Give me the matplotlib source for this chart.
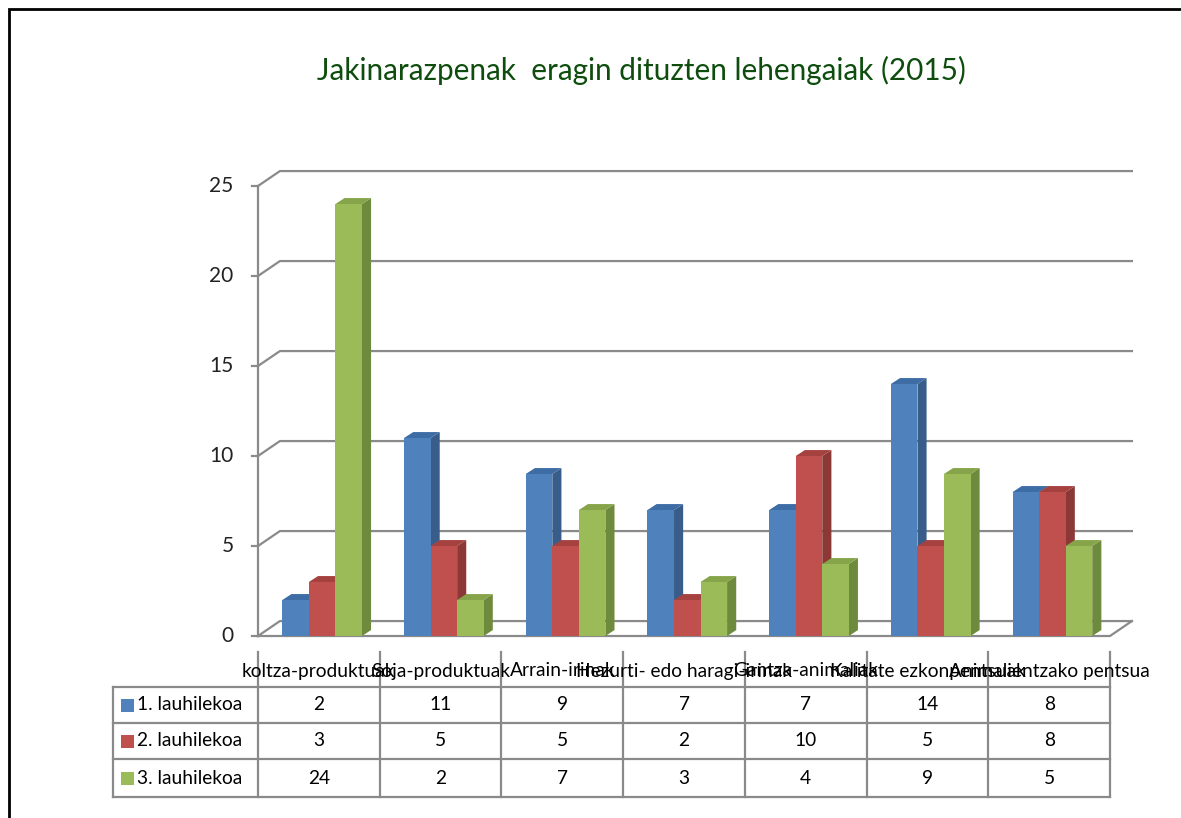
import matplotlib.pyplot as plt
from matplotlib.patches import Polygon, Rectangle

plt.rcParams['font.family'] = ['Lato', 'DejaVu Sans']

title = "Jakinarazpenak  eragin dituzten lehengaiak (2015)"
categories = ["koltza-produktuak", "Soja-produktuak", "Arrain-irinak",
              "Hezurti- edo haragi-irinak", "Gantza-animaliak",
              "Kalitate ezkonpentsuak", "Animalientzako pentsua"]
series = ["1. lauhilekoa", "2. lauhilekoa", "3. lauhilekoa"]
q1 = [2, 11, 9, 7, 7, 14, 8]
q2 = [3, 5, 5, 2, 10, 5, 8]
q3 = [24, 2, 7, 3, 4, 9, 5]
yticks = [0, 5, 10, 15, 20, 25]

front = ["#4F81BD", "#C0504D", "#9BBB59"]
side = ["#385D8A", "#8C3836", "#6E8A3C"]
top = ["#3E6DA6", "#A5423F", "#86A44A"]
grid_c = "#8A8A8A"

W, H = 1181, 818
fig = plt.figure(figsize=(W / 100, H / 100), dpi=100)

# outer frame
fig.patches.append(Rectangle((9 / W, -0.1), 1.2, 1 - 9 / H + 0.1, transform=fig.transFigure,
                             fill=False, ec="black", lw=2))

fig.text(641 / W, 1 - 70 / H, title, ha="center", va="center", fontsize=21.4,
         color="#0E4D0E")

# front plane of the plot
x0, x1, y0, y1 = 258, 1110, 636, 186
ax = fig.add_axes([x0 / W, 1 - y0 / H, (x1 - x0) / W, (y0 - y1) / H])
n = len(categories)
ax.set_xlim(0, n)
ax.set_ylim(0, 25)
ax.axis("off")


def xd(p):
    return (p - x0) * n / (x1 - x0)


def yd(p):
    return (y0 - p) * 25 / (y0 - y1)


# depth offsets in data units
ddx, ddy = 0.18, 0.83     # back wall
bdx, bdy = 0.075, 0.33    # bar depth

for v in yticks:
    ax.plot([0, ddx, n + ddx], [v, v + ddy, v + ddy], color=grid_c, lw=1.6, zorder=0,
            clip_on=False)
    ax.plot([-0.05, 0], [v, v], color=grid_c, lw=1.6, clip_on=False)
    ax.text(-0.2, v, str(v), ha="right", va="center", fontsize=15, color="#222222")
ax.plot([0, 0], [0, 25], color=grid_c, lw=1.6, clip_on=False)
ax.plot([0, n, n + ddx], [0, 0, ddy], color=grid_c, lw=1.6, zorder=0, clip_on=False)

bw = 0.218
start = 0.2
z = 2
for i in range(n):
    for s, vals in enumerate([q1, q2, q3]):
        v = vals[i]
        xl = i + start + s * bw
        xr = xl + bw
        ax.add_patch(Polygon([(xr, 0), (xr + bdx, bdy), (xr + bdx, v + bdy), (xr, v)],
                             closed=True, fc=side[s], ec="none", zorder=z))
        ax.add_patch(Polygon([(xl, v), (xl + bdx, v + bdy), (xr + bdx, v + bdy), (xr, v)],
                             closed=True, fc=top[s], ec="none", zorder=z))
        ax.bar(xl, v, width=bw, align="edge", color=front[s], zorder=z + 0.5)
        z += 1

# data table below the floor
hdr_top, row_tops, tb_bot = 652, [687, 723, 759], 797
row_edges = row_tops + [tb_bot]
lk = dict(color=grid_c, lw=1.6, clip_on=False)
for p in row_edges:
    ax.plot([xd(113), n], [yd(p), yd(p)], **lk)
ax.plot([xd(113), xd(113)], [yd(row_edges[0]), yd(tb_bot)], **lk)
for c in range(n + 1):
    ax.plot([c, c], [yd(hdr_top), yd(tb_bot)], **lk)

for i, cat in enumerate(categories):
    ax.text(i + 0.5, yd(671), cat, ha="center", va="center", fontsize=13.8,
            clip_on=False)

for s, vals in enumerate([q1, q2, q3]):
    yc = yd((row_edges[s] + row_edges[s + 1]) / 2)
    ax.add_patch(Rectangle((xd(121), yc - yd(0) + yd(6.5)), xd(134) - xd(121),
                           yd(0) - yd(13), fc=front[s], ec="none", clip_on=False))
    ax.text(xd(137), yc, series[s], ha="left", va="center", fontsize=13.8)
    for i, v in enumerate(vals):
        ax.text(i + 0.5, yc, str(v), ha="center", va="center", fontsize=13.8)

fig.savefig("out.png", dpi=100)
